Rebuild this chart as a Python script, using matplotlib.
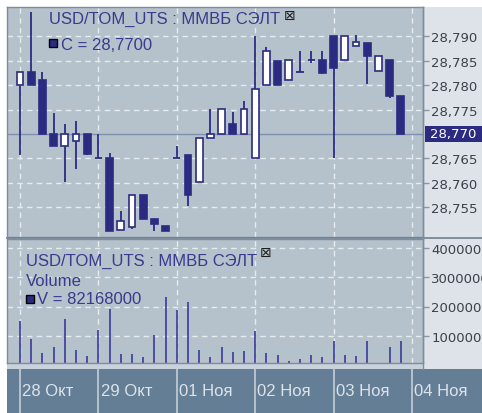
import matplotlib
matplotlib.use("Agg")
import matplotlib.pyplot as plt
from matplotlib.patches import Rectangle
from matplotlib.ticker import FuncFormatter
from matplotlib.transforms import blended_transform_factory

opens = [28.7800, 28.7827, 28.7811, 28.7700, 28.7675, 28.7686, 28.7700,
         28.7651, 28.7651, 28.7503, 28.7509, 28.7575, 28.7526, 28.7511,
         28.7651, 28.7657, 28.7602, 28.7692, 28.7700, 28.7720, 28.7700,
         28.7651, 28.7800, 28.7850, 28.7811, 28.7827, 28.7852, 28.7852,
         28.7901, 28.7852, 28.7880, 28.7886, 28.7829, 28.7852, 28.7778]
highs = [28.7827, 28.7950, 28.7827, 28.7743, 28.7720, 28.7727, 28.7700,
         28.7700, 28.7661, 28.7542, 28.7575, 28.7575, 28.7526, 28.7511,
         28.7675, 28.7657, 28.7692, 28.7751, 28.7751, 28.7745, 28.7768,
         28.7901, 28.7878, 28.7850, 28.7852, 28.7870, 28.7870, 28.7870,
         28.7901, 28.7901, 28.7903, 28.7886, 28.7860, 28.7852, 28.7778]
lows = [28.7657, 28.7800, 28.7700, 28.7675, 28.7602, 28.7628, 28.7657,
        28.7651, 28.7501, 28.7503, 28.7505, 28.7526, 28.7501, 28.7501,
        28.7651, 28.7552, 28.7602, 28.7692, 28.7700, 28.7700, 28.7700,
        28.7651, 28.7800, 28.7800, 28.7811, 28.7827, 28.7845, 28.7823,
        28.7651, 28.7852, 28.7880, 28.7802, 28.7829, 28.7774, 28.7700]
closes = [28.7827, 28.7800, 28.7700, 28.7675, 28.7700, 28.7700, 28.7659,
          28.7651, 28.7501, 28.7522, 28.7575, 28.7526, 28.7516, 28.7501,
          28.7651, 28.7575, 28.7692, 28.7700, 28.7751, 28.7700, 28.7751,
          28.7792, 28.7870, 28.7800, 28.7852, 28.7827, 28.7852, 28.7825,
          28.7835, 28.7901, 28.7889, 28.7860, 28.7860, 28.7778, 28.7700]
volumes = [151e6, 89e6, 41e6, 62e6, 157e6, 51e6, 30e6,
           119e6, 191e6, 36e6, 36e6, 26e6, 102e6, 234e6,
           188e6, 214e6, 51e6, 26e6, 62e6, 45e6, 47e6,
           115e6, 41e6, 35e6, 14e6, 20e6, 35e6, 26e6,
           83e6, 35e6, 29e6, 83e6, 0, 62e6, 82168000]
day_labels = ["27 Окт", "28 Окт", "29 Окт", "01 Ноя", "02 Ноя", "03 Ноя", "04 Ноя"]
day_starts = [-7, 0, 7, 14, 21, 28, 35]
price_ticks = [28.755, 28.760, 28.765, 28.775, 28.780, 28.785, 28.790]
volume_ticks = [100000000, 200000000, 300000000, 400000000]
last_price = 28.770
title = "USD/TOM_UTS : ММВБ СЭЛТ"

W, H = 482, 414
navy = "#2b2b82"
line_blue = "#3a3a9c"
text_blue = "#3a3a8e"
plot_bg = "#b5c1cb"
side_bg = "#dde3e8"
band_bg = "#647e96"
grid_c = "#e6ebef"
font = "Liberation Sans"
tick_font = "DejaVu Sans"


def fx(px):
    return px / W


def fy(py):
    return 1 - py / H


fig = plt.figure(figsize=(W / 100, H / 100), dpi=100)
fig.patch.set_facecolor("white")
fig.add_artist(Rectangle((fx(423), fy(370)), fx(482) - fx(423), fy(8) - fy(370),
                         transform=fig.transFigure, facecolor=side_bg, edgecolor="none", zorder=-2))
fig.add_artist(Rectangle((fx(7), fy(370)), fx(423) - fx(7), fy(364) - fy(370),
                         transform=fig.transFigure, facecolor="#c9d2da", edgecolor="none", zorder=-2))

ax = fig.add_axes([fx(7), fy(238), fx(423) - fx(7), fy(8) - fy(238)])
axv = fig.add_axes([fx(7), fy(364), fx(423) - fx(7), fy(240) - fy(364)])
axb = fig.add_axes([fx(7), 0, fx(482) - fx(7), fy(370)])

x = list(range(len(closes)))
xlim = (-13 / 11.2, 403 / 11.2)

for a in (ax, axv):
    a.set_facecolor(plot_bg)
    a.set_xlim(*xlim)
    a.set_xticks(day_starts[1:])
    a.tick_params(axis="x", length=0, labelbottom=False)
    a.yaxis.tick_right()
    a.tick_params(axis="y", length=4, width=1, color="#8a98a6", pad=2,
                  labelsize=9.5, labelcolor="#3c4048")
    a.grid(True, color=grid_c, linestyle=(0, (4, 3)), linewidth=1)
    a.set_axisbelow(True)
    for s in a.spines.values():
        s.set_color("#7d8d9c")
        s.set_linewidth(1)

# candles
ax.vlines(x, lows, highs, color=navy, linewidth=1.3, zorder=2)
for i in x:
    o, c = opens[i], closes[i]
    if o == c:
        ax.hlines(o, i - 0.32, i + 0.32, color=navy, linewidth=1.3, zorder=3)
    else:
        ax.bar(i, abs(c - o), bottom=min(o, c), width=0.6,
               color="white" if c > o else navy, edgecolor=navy,
               linewidth=1.2, zorder=3)
ax.axhline(last_price, color="#7f8fb0", linewidth=1, zorder=1)
ax.set_ylim(28.770 - 103 * 0.005 / 24.4, 28.770 + 127 * 0.005 / 24.4)
ax.set_yticks(price_ticks)
ax.yaxis.set_major_formatter(FuncFormatter(lambda v, p: ("%.3f" % v).replace(".", ",")))
for lab in ax.get_yticklabels():
    lab.set_fontfamily(tick_font)

# last price marker on the scale
tr = blended_transform_factory(fig.transFigure, ax.transData)
box_h = 16 * 0.005 / 24.4
fig.add_artist(Rectangle((fx(425), last_price - box_h / 2), fx(482) - fx(425), box_h,
                         transform=tr, facecolor=navy, edgecolor="none", zorder=5))
fig.text(fx(430), last_price, ("%.3f" % last_price).replace(".", ","), transform=tr,
         ha="left", va="center", fontsize=9.5, family=tick_font, color="white", zorder=6)

# volume
axv.vlines(x, 0, volumes, color=line_blue, linewidth=1.2)
axv.set_ylim((365.9 - 364) / 29.2 * 1e8, (365.9 - 240) / 29.2 * 1e8)
axv.set_yticks(volume_ticks)
axv.yaxis.set_major_formatter(FuncFormatter(lambda v, p: "%d" % v))
for lab in axv.get_yticklabels():
    lab.set_fontfamily(tick_font)

# date band
axb.set_facecolor(band_bg)
axb.set_xlim(xlim[0], (482 - 20) / 11.2)
axb.set_ylim(0, 1)
axb.set_xticks([])
axb.set_yticks([])
for s in axb.spines.values():
    s.set_visible(False)
for d, lab in zip(day_starts, day_labels):
    axb.axvline(d, color="#c5ced8", linewidth=1.2)
    axb.text(d + 0.2, 0.5, lab, ha="left", va="center", fontsize=12,
             family=font, color="#dde3ea", clip_on=True)

# divider lines
fig.add_artist(plt.Line2D([fx(7), fx(482)], [fy(239), fy(239)], transform=fig.transFigure,
                          color="#6f8090", linewidth=1.2))
fig.add_artist(plt.Line2D([fx(423), fx(423)], [fy(8), fy(370)], transform=fig.transFigure,
                          color="#7d8d9c", linewidth=1))

# legends
fig.text(fx(49), fy(19), title, fontsize=12, family=font, color=text_blue, va="center")
fig.text(fx(284), fy(16), "⊠", fontsize=10, family="DejaVu Sans", color="#202020", va="center")
fig.add_artist(Rectangle((fx(49), fy(48)), 8 / W, 8 / H, transform=fig.transFigure,
                         facecolor=navy, edgecolor="black", linewidth=1))
fig.text(fx(61), fy(45), "C = " + ("%.4f" % last_price).replace(".", ","), fontsize=12,
         family=font, color=text_blue, va="center")

fig.text(fx(26), fy(261), title, fontsize=12, family=font, color=text_blue, va="center")
fig.text(fx(260), fy(253), "⊠", fontsize=10, family="DejaVu Sans", color="#202020", va="center")
fig.text(fx(26), fy(281), "Volume", fontsize=12, family=font, color=text_blue, va="center")
fig.add_artist(Rectangle((fx(26), fy(304)), 8 / W, 8 / H, transform=fig.transFigure,
                         facecolor=navy, edgecolor="black", linewidth=1))
fig.text(fx(37), fy(300), "V = %d" % volumes[-1], fontsize=12, family=font,
         color=text_blue, va="center")

fig.savefig("out.png", dpi=100)
